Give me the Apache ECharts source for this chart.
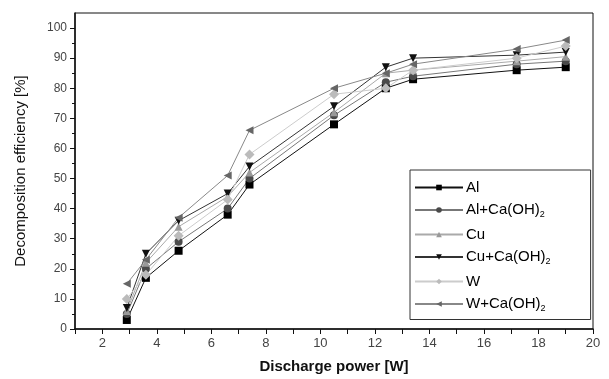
<!DOCTYPE html>
<html>
<head>
<meta charset="utf-8">
<script src="https://cdn.jsdelivr.net/npm/echarts@6/dist/echarts.min.js"></script>
<style>
  html, body { margin: 0; padding: 0; background: #fff; }
  #chart { width: 609px; height: 379px; }
</style>
</head>
<body>
<div id="chart"></div>
<script>
const power = [2.9, 3.6, 4.8, 6.6, 7.4, 10.5, 12.4, 13.4, 17.2, 19.0];
const al = [3, 17, 26, 38, 48, 68, 80, 83, 86, 87];
const alCa = [5, 20, 29, 40, 50, 71, 82, 84, 88, 89];
const cu = [6, 22, 34, 44, 52, 72, 85, 86, 89, 90.5];
const cuCa = [7, 25, 36, 45, 54, 74, 87, 90, 91, 92];
const w = [10, 18, 31, 43, 58, 78, 80, 86, 90, 94];
const wCa = [15, 23, 37, 51, 66, 80, 85, 88, 93, 96];

const yTicks = [0, 10, 20, 30, 40, 50, 60, 70, 80, 90, 100];

const chart = echarts.init(document.getElementById('chart'));

function mk(name, values, symbol, color, lineColor, rotate) {
  return {
    name,
    type: 'line',
    data: power.map((x, i) => [x, values[i]]),
    symbol,
    symbolSize: symbol === 'diamond' ? 10 : 8,
    symbolRotate: rotate || 0,
    itemStyle: { color },
    lineStyle: { color: lineColor, width: 1 },
    z: 2,
  };
}

chart.setOption({
  animation: false,
  textStyle: { fontFamily: 'Liberation Sans, Arial, sans-serif' },
  grid: {
    left: 75,
    right: 16,
    top: 13,
    bottom: 50,
    show: true,
    borderColor: '#111',
    borderWidth: 1,
  },
  xAxis: {
    type: 'value',
    min: 1,
    max: 20,
    interval: 1,
    name: 'Discharge power [W]',
    nameLocation: 'middle',
    nameGap: 30,
    nameTextStyle: { fontSize: 15, fontWeight: 'bold', color: '#111' },
    axisLine: { onZero: false, lineStyle: { color: '#111', width: 1.5 } },
    axisTick: { length: 5, lineStyle: { color: '#111' } },
    axisLabel: {
      fontSize: 13,
      color: '#444',
      margin: 8,
      formatter: v => (v % 2 === 0 ? String(v) : ''),
    },
    splitLine: { show: false },
  },
  yAxis: {
    type: 'value',
    min: 0,
    max: 105,
    interval: 10,
    name: 'Decomposition efficiency [%]',
    nameLocation: 'middle',
    nameGap: 47,
    nameTextStyle: { fontSize: 15, color: '#111' },
    axisLine: { onZero: false, lineStyle: { color: '#111', width: 1.5 } },
    axisTick: { length: 5, customValues: yTicks, lineStyle: { color: '#111' } },
    minorTick: { show: true, splitNumber: 2, length: 3, lineStyle: { color: '#111' } },
    axisLabel: {
      fontSize: 12,
      color: '#444',
      margin: 8,
      customValues: yTicks,
    },
    splitLine: { show: false },
  },
  legend: {
    orient: 'vertical',
    left: 410,
    top: 170,
    width: 172,
    padding: [10, 40, 6, 4],
    itemWidth: 48,
    itemHeight: 7,
    itemGap: 7.5,
    borderColor: '#333',
    borderWidth: 1,
    backgroundColor: '#fff',
    textStyle: {
      fontSize: 15,
      color: '#000',
      padding: [0, 0, 0, -2],
      rich: {
        sub: { fontSize: 9, padding: [10, 0, 0, 0], color: '#000' },
      },
    },
    formatter: n => n.replace('Ca(OH)2', 'Ca(OH){sub|2}'),
  },
  series: [
    mk('Al', al, 'rect', '#000', '#111'),
    mk('Al+Ca(OH)2', alCa, 'circle', '#4a4a4a', '#777'),
    mk('Cu', cu, 'triangle', '#999', '#aaa'),
    mk('Cu+Ca(OH)2', cuCa, 'triangle', '#111', '#333', 180),
    mk('W', w, 'diamond', '#bbb', '#ccc'),
    mk('W+Ca(OH)2', wCa, 'triangle', '#666', '#888', 90),
  ],
});
</script>
</body>
</html>
